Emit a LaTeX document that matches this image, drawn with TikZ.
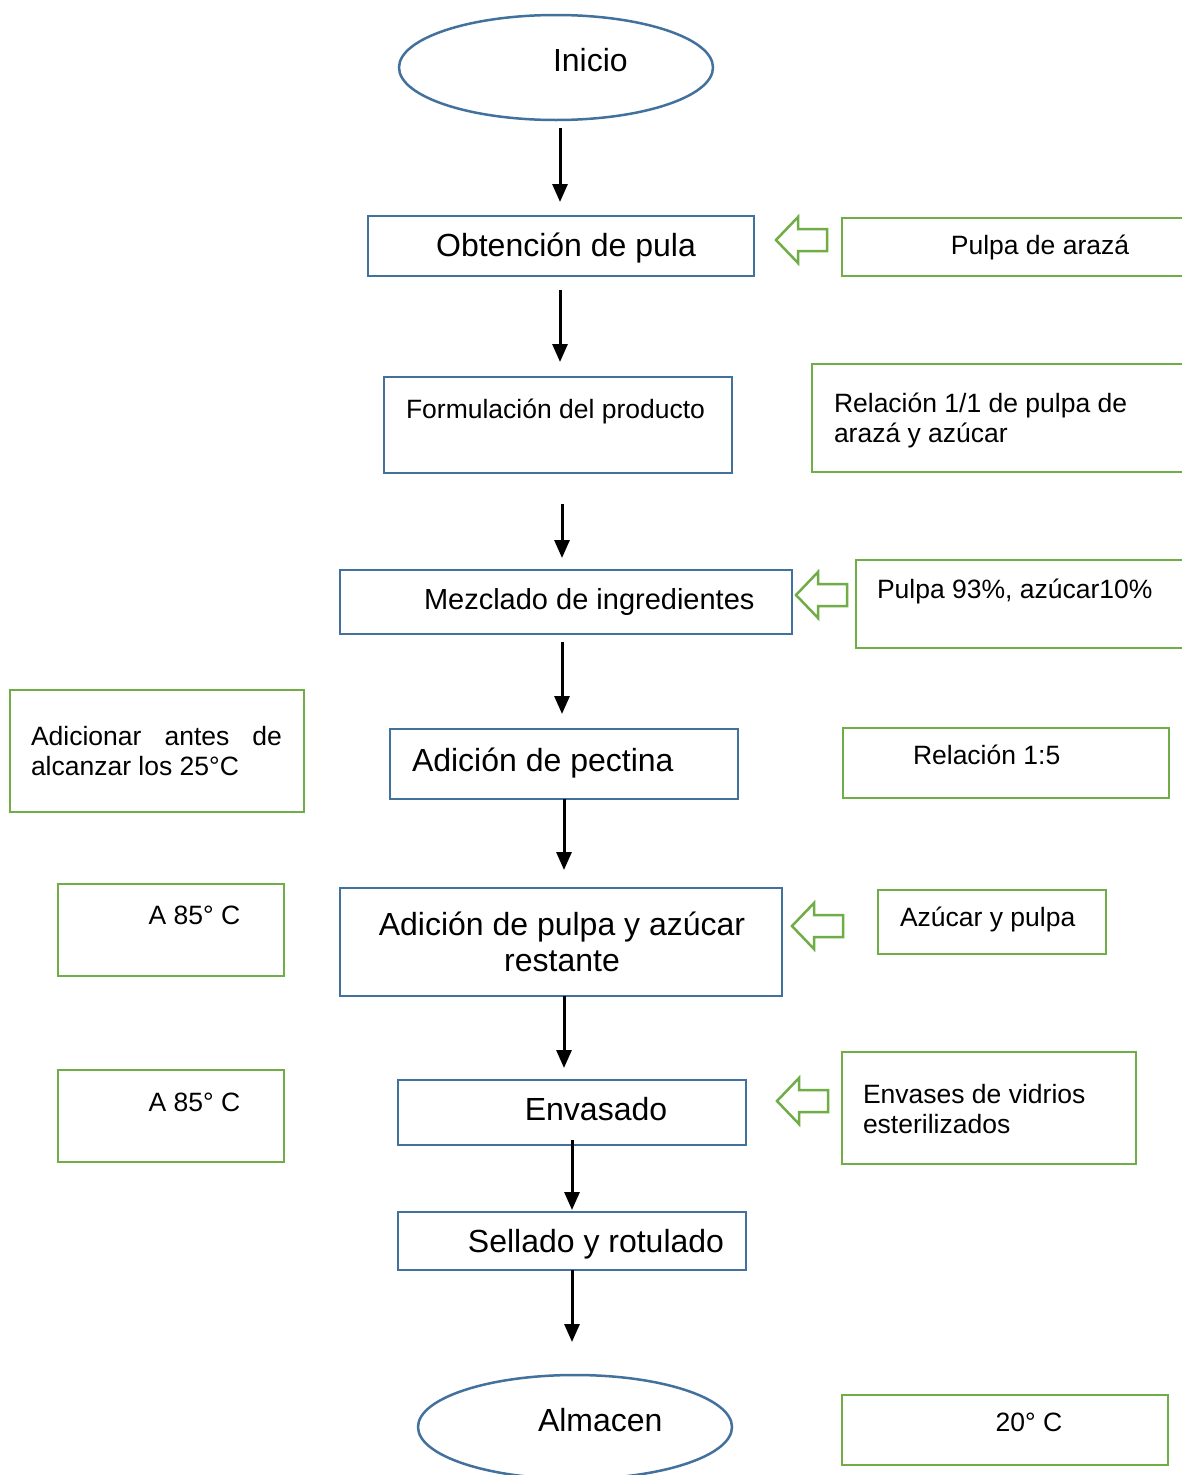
\documentclass[tikz,border=0pt]{standalone}
\usepackage{fontspec}
\setmainfont{Liberation Sans}
\usetikzlibrary{shapes.geometric,arrows.meta}
\definecolor{bboxc}{HTML}{41719C}
\definecolor{gboxc}{HTML}{70AD47}
\newcommand\PutL[3]{\makebox[0pt][l]{\hspace*{#1}\raisebox{#2}{#3}}}
\newcommand\PutC[3]{\makebox[0pt][c]{\hspace*{#1}\hspace*{#1}\raisebox{#2}{#3}}}
\newcommand\bigf{\fontsize{32}{36}\selectfont}
\newcommand\midf{\fontsize{29}{33}\selectfont}
\newcommand\smf{\fontsize{26.5}{30}\selectfont}
\tikzset{
  shp/.style={inner sep=0pt,outer sep=0pt,text height=0pt,text depth=0pt},
  bbox/.style={shp,draw=bboxc,line width=2pt,rectangle},
  gbox/.style={shp,draw=gboxc,line width=2.6pt,rectangle},
  oval/.style={shp,draw=bboxc,line width=2.5pt,ellipse},
  arr/.style={line width=3pt,-{Triangle[length=18pt,width=15pt]}},
  hollowline/.style={draw=gboxc,line width=2.5pt,line join=miter},
  hollowarrow/.pic={\draw[hollowline] (0,0) -- (22,-23) -- (22,-11) -- (51,-11) -- (51,11) -- (22,11) -- (22,23) -- cycle;}
}
\begin{document}
\begin{tikzpicture}[x=1pt,y=-1pt]
\useasboundingbox[fill=white] (0,0) rectangle (1181,1475);

% main column
\node[oval,minimum width=314pt,minimum height=105pt] (ini) at (556,67.5)
  {\PutL{-3pt}{-3.5pt}{\bigf Inicio}};
\node[bbox,minimum width=386pt,minimum height=60pt] (obt) at (561,246)
  {\PutC{5pt}{-10pt}{\bigf Obtención de pula}};
\node[bbox,minimum width=348pt,minimum height=96pt] (form) at (558,425)
  {\PutL{-152pt}{7pt}{\smf Formulación del producto}};
\node[bbox,minimum width=452pt,minimum height=64pt] (mez) at (566,602)
  {\PutL{-142pt}{-7pt}{\midf Mezclado de ingredientes}};
\node[bbox,minimum width=348pt,minimum height=70pt] (pect) at (564,764)
  {\PutL{-152pt}{-7pt}{\bigf Adición de pectina}};
\node[bbox,minimum width=442pt,minimum height=108pt] (pulp) at (561,942)
  {\PutC{1pt}{7pt}{\bigf\begin{tabular}[t]{@{}c@{}}Adición de pulpa y azúcar\\restante\end{tabular}}};
\node[bbox,minimum width=348pt,minimum height=65pt] (env) at (572,1112.5)
  {\PutC{24pt}{-7.5pt}{\bigf Envasado}};
\node[bbox,minimum width=348pt,minimum height=58pt] (sell) at (572,1241)
  {\PutC{24pt}{-11pt}{\bigf Sellado y rotulado}};
\node[oval,minimum width=314pt,minimum height=104pt] (alm) at (575,1427)
  {\PutL{-37pt}{-4pt}{\bigf Almacen}};

% side boxes
\node[gbox,minimum width=353pt,minimum height=58pt] (parz) at (1018.5,247)
  {\PutC{21.5pt}{-7pt}{\smf Pulpa de arazá}};
\node[gbox,minimum width=383pt,minimum height=108pt] (rel11) at (1003.5,418)
  {\PutL{-169.5pt}{6pt}{\smf\begin{tabular}[t]{@{}l@{}}Relación 1/1 de pulpa de\\arazá y azúcar\end{tabular}}};
\node[gbox,minimum width=339pt,minimum height=88pt] (p93) at (1025.5,604)
  {\PutL{-148.5pt}{6pt}{\smf Pulpa 93\%, azúcar10\%}};
\node[gbox,minimum width=294pt,minimum height=122pt] (adic) at (157,751)
  {\PutL{-126pt}{6pt}{\parbox[t]{251pt}{\smf\hyphenpenalty=10000 Adicionar antes de alcanzar los 25°C}}};
\node[gbox,minimum width=326pt,minimum height=70pt] (rel15) at (1006,763)
  {\PutL{-93pt}{-1pt}{\smf Relación 1:5}};
\node[gbox,minimum width=226pt,minimum height=92pt] (a85a) at (171,930)
  {\PutC{23.5pt}{6pt}{\smf A 85° C}};
\node[gbox,minimum width=228pt,minimum height=64pt] (azu) at (992,922)
  {\PutL{-92pt}{-4pt}{\smf Azúcar y pulpa}};
\node[gbox,minimum width=226pt,minimum height=92pt] (a85b) at (171,1116)
  {\PutC{23.5pt}{5pt}{\smf A 85° C}};
\node[gbox,minimum width=294pt,minimum height=112pt] (envs) at (989,1108)
  {\PutL{-126pt}{5pt}{\smf\begin{tabular}[t]{@{}l@{}}Envases de vidrios\\esterilizados\end{tabular}}};
\node[gbox,minimum width=326pt,minimum height=70pt] (t20) at (1005,1430)
  {\PutC{24pt}{-1pt}{\smf 20° C}};

% connectors
\draw[arr] ([shift={(4,8)}]ini.south) -- ([shift={(-1,-14)}]obt.north);
\draw[arr] ([shift={(-1,14)}]obt.south) -- ([shift={(2,-15)}]form.north);
\draw[arr] ([shift={(4,31)}]form.south) -- ([shift={(-4,-12)}]mez.north);
\draw[arr] ([shift={(-4,8)}]mez.south) -- ([shift={(-2,-15)}]pect.north);
\draw[arr] (pect.south) -- ([shift={(3,-18)}]pulp.north);
\draw[arr] ([shift={(3,0)}]pulp.south) -- ([shift={(-8,-12)}]env.north);
\draw[arr] ([shift={(0,-5)}]env.south) -- ([shift={(0,-2)}]sell.north);
\draw[arr] (sell.south) -- ([shift={(-3,-33)}]alm.north);

% hollow input arrows
\pic at (776,240) {hollowarrow};
\pic at (796,595) {hollowarrow};
\pic at (792,926) {hollowarrow};
\pic at (777,1101) {hollowarrow};
\end{tikzpicture}
\end{document}
